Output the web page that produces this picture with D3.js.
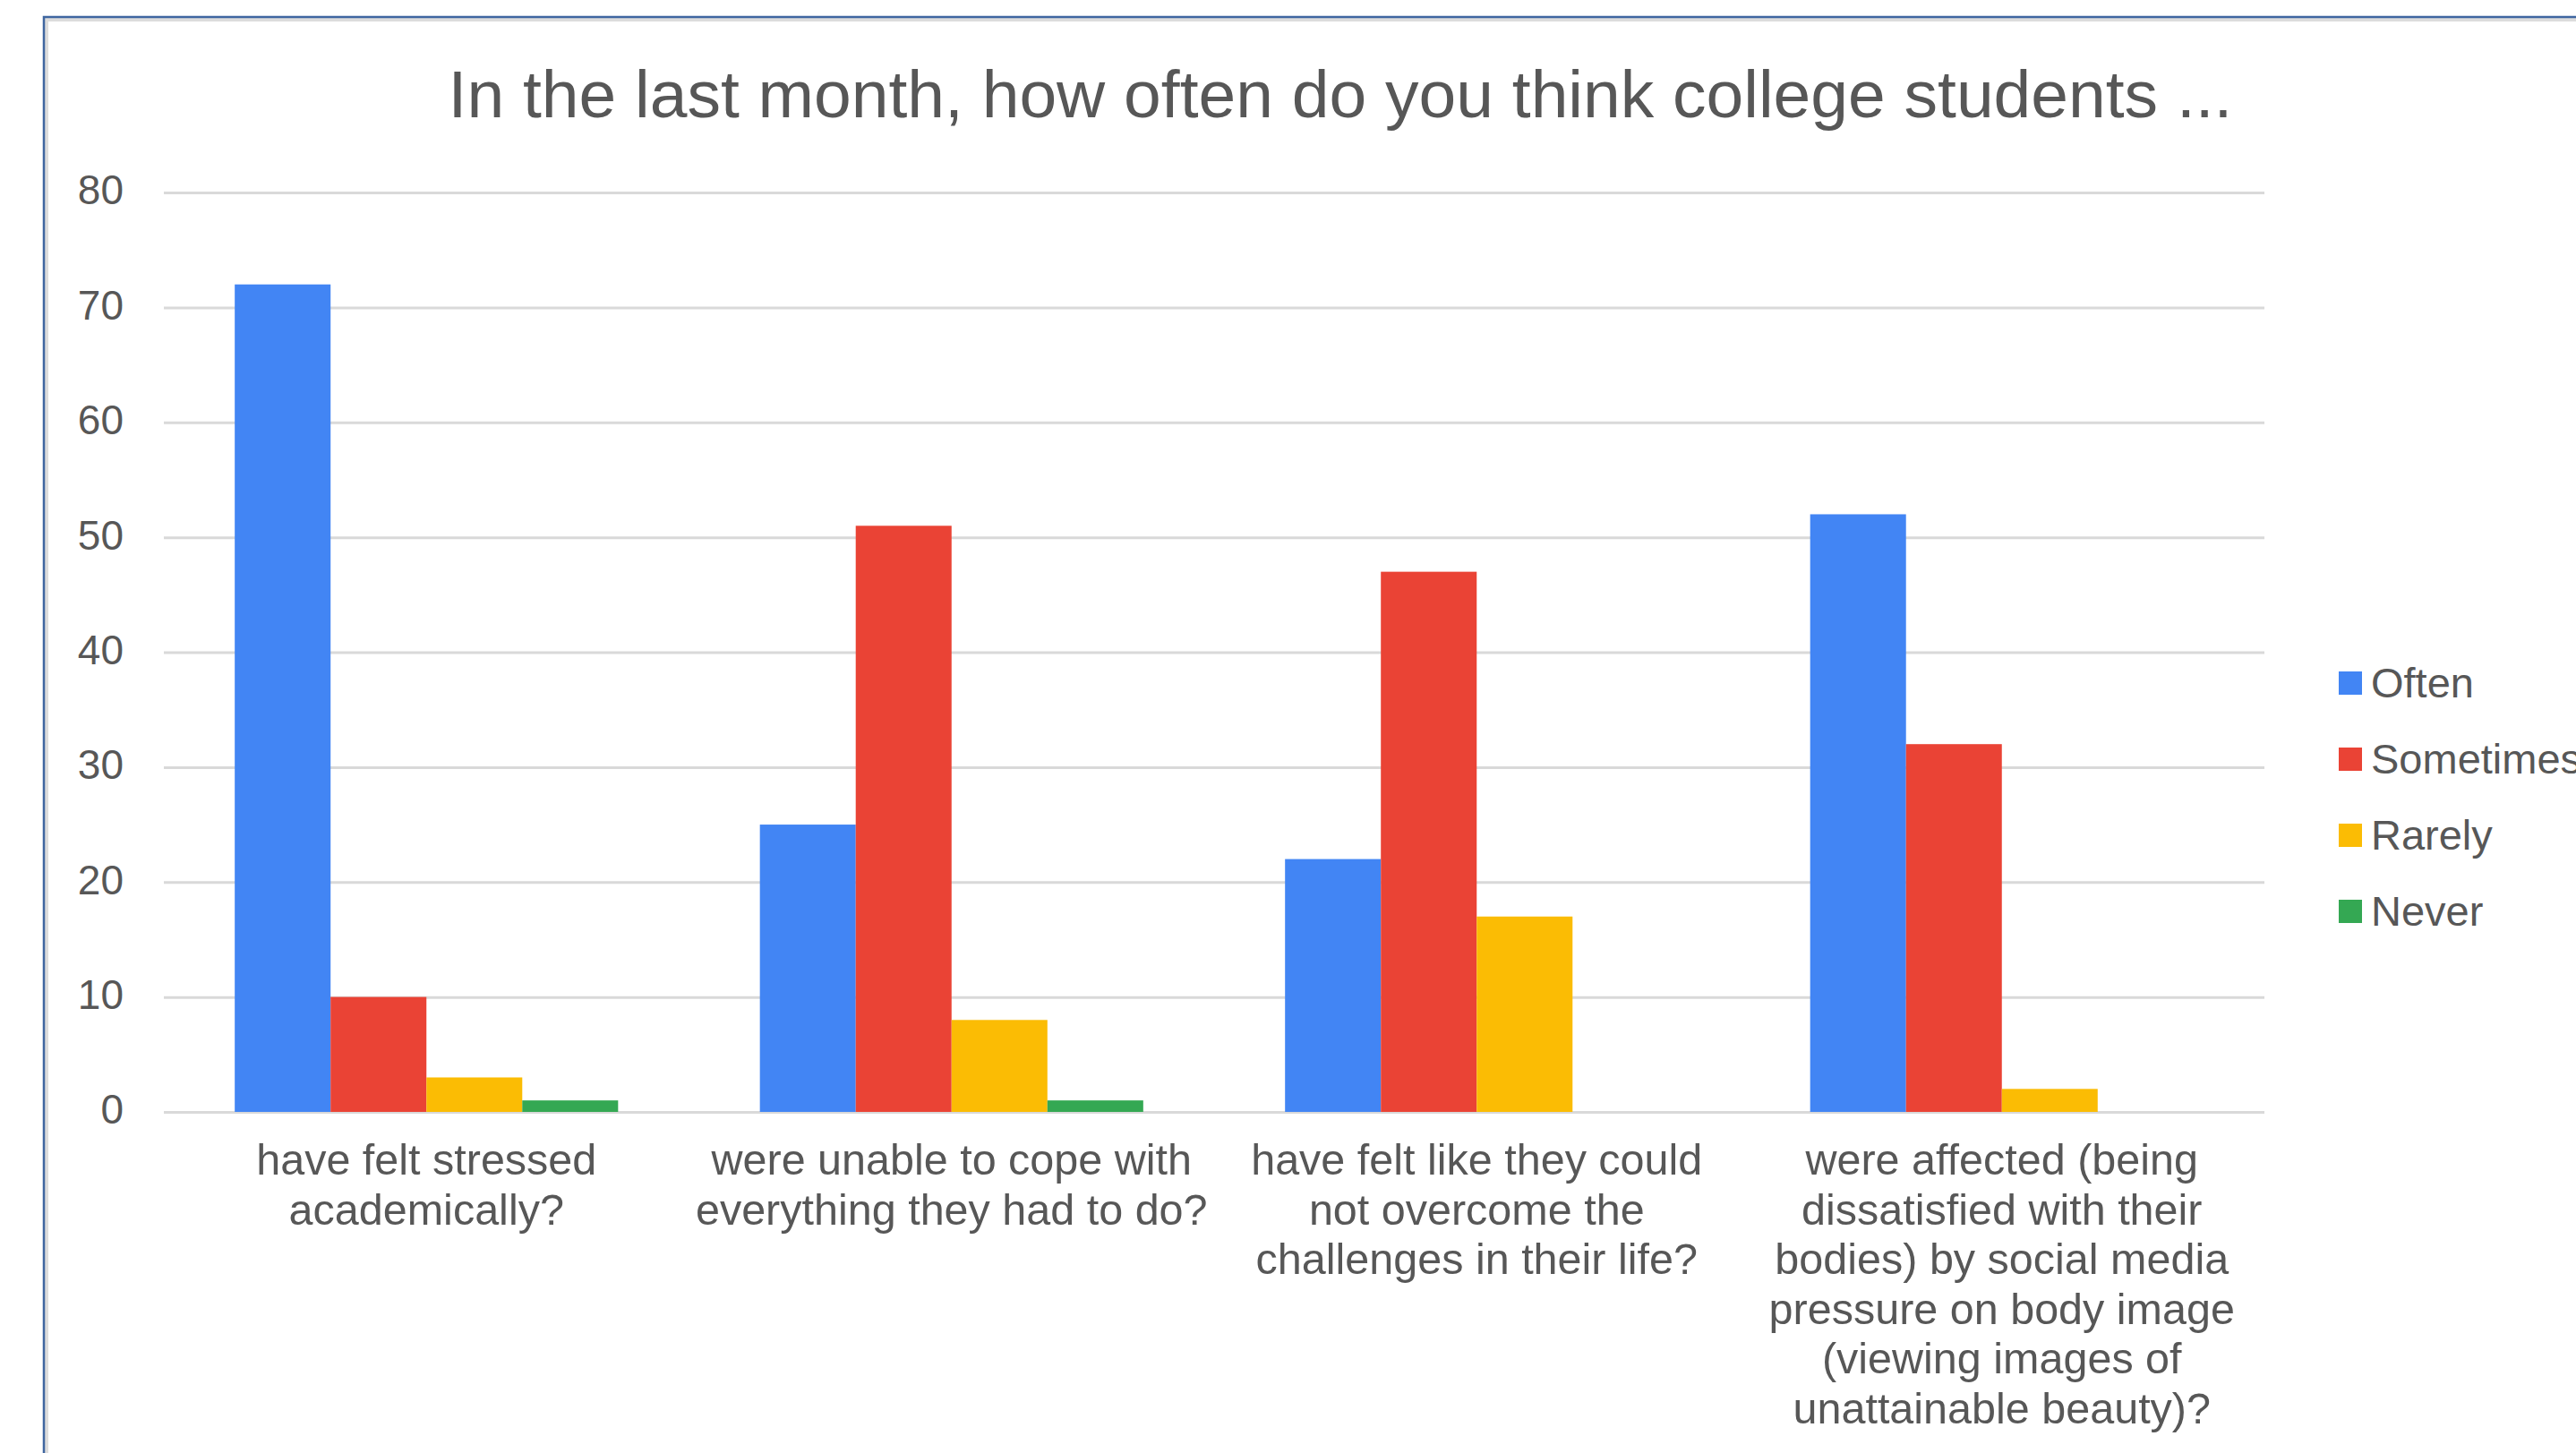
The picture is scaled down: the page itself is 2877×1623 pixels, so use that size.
<!DOCTYPE html>
<html>
<head>
<meta charset="utf-8">
<script src="https://cdn.jsdelivr.net/npm/d3@7"></script>
<style>
  body { margin: 0; background: #fff; }
  text { font-family: "Liberation Sans", Arial, sans-serif; fill: #575757; }
</style>
</head>
<body>
<svg id="chart" width="2877" height="1623"></svg>
<script>
// chart data
const categories = [
    ["have felt stressed", "academically?"],
    ["were unable to cope with", "everything they had to do?"],
    ["have felt like they could", "not overcome the", "challenges in their life?"],
    ["were affected (being", "dissatisfied with their", "bodies) by social media", "pressure on body image", "(viewing images of", "unattainable beauty)?"]
];
const seriesNames = ["Often", "Sometimes", "Rarely", "Never"];
const often = [72, 25, 22, 52];
const sometimes = [10, 51, 47, 32];
const rarely = [3, 8, 17, 2];
const never = [1, 1, 0, 0];
const yTicks = [0, 10, 20, 30, 40, 50, 60, 70, 80];
const colors = ["#4285F4", "#EA4335", "#FBBC04", "#34A853"];
const title = "In the last month, how often do you think college students ...";

const series = [often, sometimes, rarely, never];

const svg = d3.select("#chart");

// frame of the pasted chart
svg.append("rect")
    .attr("x", 51).attr("y", 21)
    .attr("width", 3000).attr("height", 2000)
    .attr("fill", "#fff")
    .attr("stroke", "#dcdcdc")
    .attr("stroke-width", 6);
svg.append("rect")
    .attr("x", 49).attr("y", 19)
    .attr("width", 3000).attr("height", 2000)
    .attr("fill", "none")
    .attr("stroke", "#3f66a0")
    .attr("stroke-width", 2.5);

const plotLeft = 183, plotRight = 2529, plotTop = 215, plotBottom = 1242;

const x0 = d3.scaleBand()
    .domain(d3.range(categories.length))
    .range([plotLeft, plotRight])
    .paddingInner(0.27)
    .paddingOuter(0.135);

const x1 = d3.scaleBand()
    .domain(d3.range(seriesNames.length))
    .range([0, x0.bandwidth()]);

const y = d3.scaleLinear()
    .domain([0, 80])
    .range([plotBottom, plotTop]);

// grid + y labels
const yAxis = svg.append("g")
    .attr("transform", `translate(${plotLeft},0)`)
    .call(d3.axisLeft(y).tickValues(yTicks).tickSize(-(plotRight - plotLeft)).tickPadding(45));

yAxis.select(".domain").remove();
yAxis.selectAll(".tick line")
    .attr("stroke", "#d9d9d9")
    .attr("stroke-width", 3);
yAxis.selectAll(".tick text")
    .style("font-family", "'Liberation Sans', Arial, sans-serif")
    .style("font-size", "46px")
    .attr("dy", "0.28em")
    .attr("fill", "#575757");

// bars
const groups = svg.append("g")
    .selectAll("g")
    .data(categories)
    .enter().append("g")
    .attr("transform", (d, i) => `translate(${x0(i)},0)`);

groups.selectAll("rect")
    .data((d, i) => series.map((s, j) => ({ j, v: s[i] })))
    .enter().append("rect")
    .attr("x", d => x1(d.j))
    .attr("width", x1.bandwidth())
    .attr("y", d => y(d.v))
    .attr("height", d => plotBottom - y(d.v))
    .attr("fill", d => colors[d.j]);

// category labels
const catLabels = svg.append("g")
    .selectAll("text")
    .data(categories)
    .enter().append("text")
    .attr("text-anchor", "middle")
    .style("font-size", "48.5px")
    .attr("x", (d, i) => x0(i) + x0.bandwidth() / 2)
    .attr("y", 1312);

catLabels.selectAll("tspan")
    .data(d => d)
    .enter().append("tspan")
    .attr("x", function () { return d3.select(this.parentNode).attr("x"); })
    .attr("dy", (d, i) => i === 0 ? 0 : 55.6)
    .text(d => d);

// title
svg.append("text")
    .attr("x", 1497)
    .attr("y", 131)
    .attr("text-anchor", "middle")
    .style("font-size", "75px")
    .text(title);

// legend
const legend = svg.append("g")
    .selectAll("g")
    .data(seriesNames)
    .enter().append("g")
    .attr("transform", (d, i) => `translate(2612,${763 + i * 85})`);

legend.append("rect")
    .attr("x", 0).attr("y", -13)
    .attr("width", 26).attr("height", 26)
    .attr("fill", (d, i) => colors[i]);

legend.append("text")
    .attr("x", 36)
    .attr("dy", "0.35em")
    .style("font-size", "47px")
    .text(d => d);
</script>
</body>
</html>
